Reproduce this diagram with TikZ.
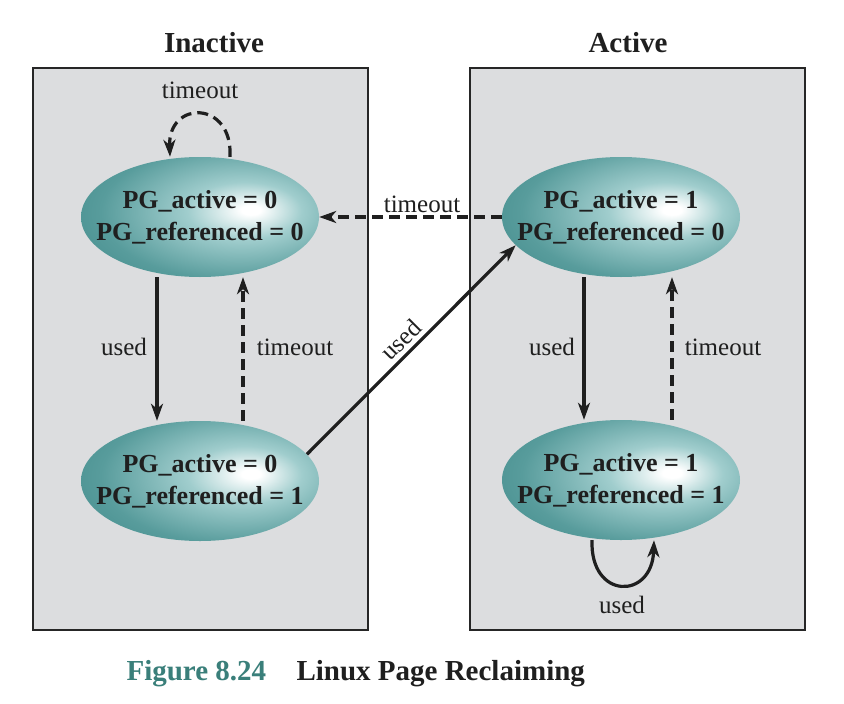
\documentclass[tikz,border=0pt]{standalone}
\usepackage{fontspec}
\setmainfont{Liberation Serif}
\usetikzlibrary{shapes.geometric,arrows.meta}
\definecolor{boxgray}{RGB}{220,221,223}
\definecolor{tealA}{RGB}{160,205,205}
\definecolor{tealB}{RGB}{88,156,156}
\definecolor{tealC}{RGB}{46,124,124}
\definecolor{captealc}{RGB}{58,127,122}
\pgfdeclareradialshading{ballshade}{\pgfpoint{11bp}{3bp}}{color(0bp)=(white); color(2bp)=(white); color(12bp)=(tealA); color(28bp)=(tealB); color(50bp)=(tealC); color(80bp)=(tealC)}
\tikzset{
  region/.style={draw=black!85, line width=1.2pt, fill=boxgray},
  statebox/.style={ellipse, minimum width=238pt, minimum height=120pt, inner sep=0pt, shading=ballshade, draw=none},
  statetext/.style={align=center, font=\bfseries\fontsize{26}{32}\selectfont, text=black!88},
  lbl/.style={font=\fontsize{25}{30}\selectfont, text=black!88, anchor=base},
  ttl/.style={font=\bfseries\fontsize{29}{34}\selectfont, text=black!88, anchor=base},
  arr/.style={line width=3.2pt, draw=black!88, -{Stealth[length=17pt,width=12pt,inset=5pt]}},
  darr/.style={arr, dash pattern=on 11pt off 6pt},
}
\begin{document}
\begin{tikzpicture}[x=1pt,y=-1pt]
\useasboundingbox (0,0) rectangle (844,704);
\fill[white] (0,0) rectangle (844,704);
\draw[region] (33,68) rectangle (368,630);
\draw[region] (470,68) rectangle (805,630);
\node[ttl] (tin) at (214,52) {Inactive};
\node[ttl] (tac) at (628,52) {Active};

\node[statebox] (a0) at (200,217) {};
\node[statebox] (a1) at (200,481) {};
\node[statebox] (a2) at (621,217) {};
\node[statebox] (a3) at (621,480) {};
\node[statetext] (t0) at (200,217) {PG\_active = 0\\PG\_referenced = 0};
\node[statetext] (t1) at (200,481) {PG\_active = 0\\PG\_referenced = 1};
\node[statetext] (t2) at (621,217) {PG\_active = 1\\PG\_referenced = 0};
\node[statetext] (t3) at (621,480) {PG\_active = 1\\PG\_referenced = 1};

% top-left self loop
\draw[darr] ([xshift=30pt]a0.north) .. controls (233,100) and (168,100) .. ([xshift=-30pt]a0.north);
\node[lbl] (l0) at (200,98) {timeout};
% active -> inactive timeout
\draw[darr] (a2.west) -- (a0.east);
\node[lbl] (l1) at (422,212) {timeout};
% left vertical
\draw[arr] ([xshift=-43pt]a0.south) -- ([xshift=-43pt]a1.north);
\node[lbl] (l2) at (124,355) {used};
\draw[darr] ([xshift=43pt]a1.north) -- ([xshift=43pt]a0.south);
\node[lbl] (l3) at (295,355) {timeout};
% diagonal
\draw[arr] (a1.14.5) -- node[midway, sloped, above, font=\fontsize{25}{30}\selectfont, text=black!88, inner sep=4pt] (l7) {used} (a2.195);
% right vertical
\draw[arr] ([xshift=-37pt]a2.south) -- ([xshift=-37pt]a3.north);
\node[lbl] (l4) at (552,355) {used};
\draw[darr] ([xshift=51pt]a3.north) -- ([xshift=51pt]a2.south);
\node[lbl] (l5) at (723,355) {timeout};
% bottom-right self loop
\draw[arr] ([xshift=-29pt]a3.south) .. controls (590,600) and (652,600) .. ([xshift=33pt]a3.south);
\node[lbl] (l6) at (622,613) {used};

% caption
\node[anchor=base west, font=\bfseries\fontsize{29}{34}\selectfont, text=captealc] (cap1) at (123,680) {Figure 8.24};
\node[anchor=base west, font=\bfseries\fontsize{29}{34}\selectfont, text=black!88] (cap2) at (293,680) {Linux Page Reclaiming};
\end{tikzpicture}
\end{document}
